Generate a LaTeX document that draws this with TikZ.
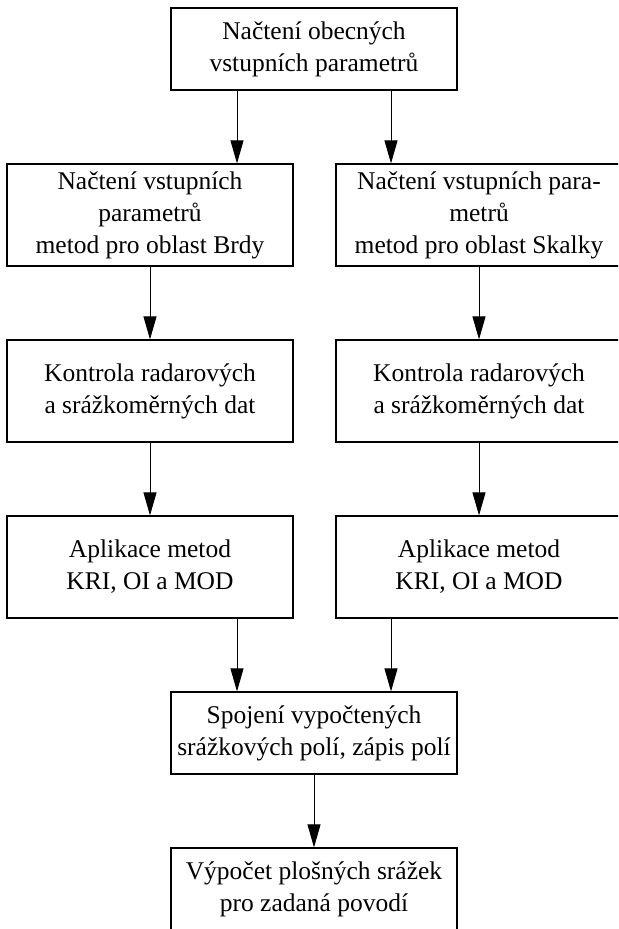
\documentclass[tikz,border=0pt]{standalone}
\usepackage{fontspec}
\setmainfont{Liberation Serif}
\usetikzlibrary{
    arrows.meta,
    positioning
}

\begin{document}
\begin{tikzpicture}[x=5pt, y=5pt,
    krok/.style={draw, line width=0.6pt, align=center, inner sep=0pt,
        minimum width=143pt, minimum height=51pt,
        font=\fontsize{12.75}{16}\selectfont},
    kratky/.style={krok, minimum height=41pt},
    sipka/.style={-{Triangle[length=11.5pt, width=6.5pt]}, line width=0.45pt}]
    \clip (0, 0) rectangle (61.8, -92.9);
    % uvodni krok
    \node[kratky] (obecne) at (31.4, -4.9) {Načtení obecných\\vstupních parametrů};
    % vetev Brdy
    \node[krok] (brdy1) at (15, -21.5) {Načtení vstupních\\parametrů\\metod pro oblast Brdy};
    \node[krok] (brdy2) at (15, -39.1) {Kontrola radarových\\a srážkoměrných dat};
    \node[krok] (brdy3) at (15, -56.7) {Aplikace metod\\KRI, OI a MOD};
    % vetev Skalky
    \node[krok] (skal1) at (47.9, -21.5) {Načtení vstupních para-\\metrů\\metod pro oblast Skalky};
    \node[krok] (skal2) at (47.9, -39.1) {Kontrola radarových\\a srážkoměrných dat};
    \node[krok] (skal3) at (47.9, -56.7) {Aplikace metod\\KRI, OI a MOD};
    % spojeni
    \node[kratky] (spojeni) at (31.4, -73.3) {Spojení vypočtených\\srážkových polí, zápis polí};
    \node[kratky] (povodi) at (31.4, -88.9) {Výpočet plošných srážek\\pro zadaná povodí};
    \draw[sipka] ([xshift=-38.5pt]obecne.south) -- ([xshift=-38.5pt]obecne.south |- brdy1.north);
    \draw[sipka] ([xshift=38.5pt]obecne.south) -- ([xshift=38.5pt]obecne.south |- skal1.north);
    \draw[sipka] (brdy1) -- (brdy2);
    \draw[sipka] (brdy2) -- (brdy3);
    \draw[sipka] (skal1) -- (skal2);
    \draw[sipka] (skal2) -- (skal3);
    \draw[sipka] ([xshift=-38.5pt]spojeni.north |- brdy3.south) -- ([xshift=-38.5pt]spojeni.north);
    \draw[sipka] ([xshift=38.5pt]spojeni.north |- skal3.south) -- ([xshift=38.5pt]spojeni.north);
    \draw[sipka] (spojeni) -- (povodi);
\end{tikzpicture}
\end{document}
